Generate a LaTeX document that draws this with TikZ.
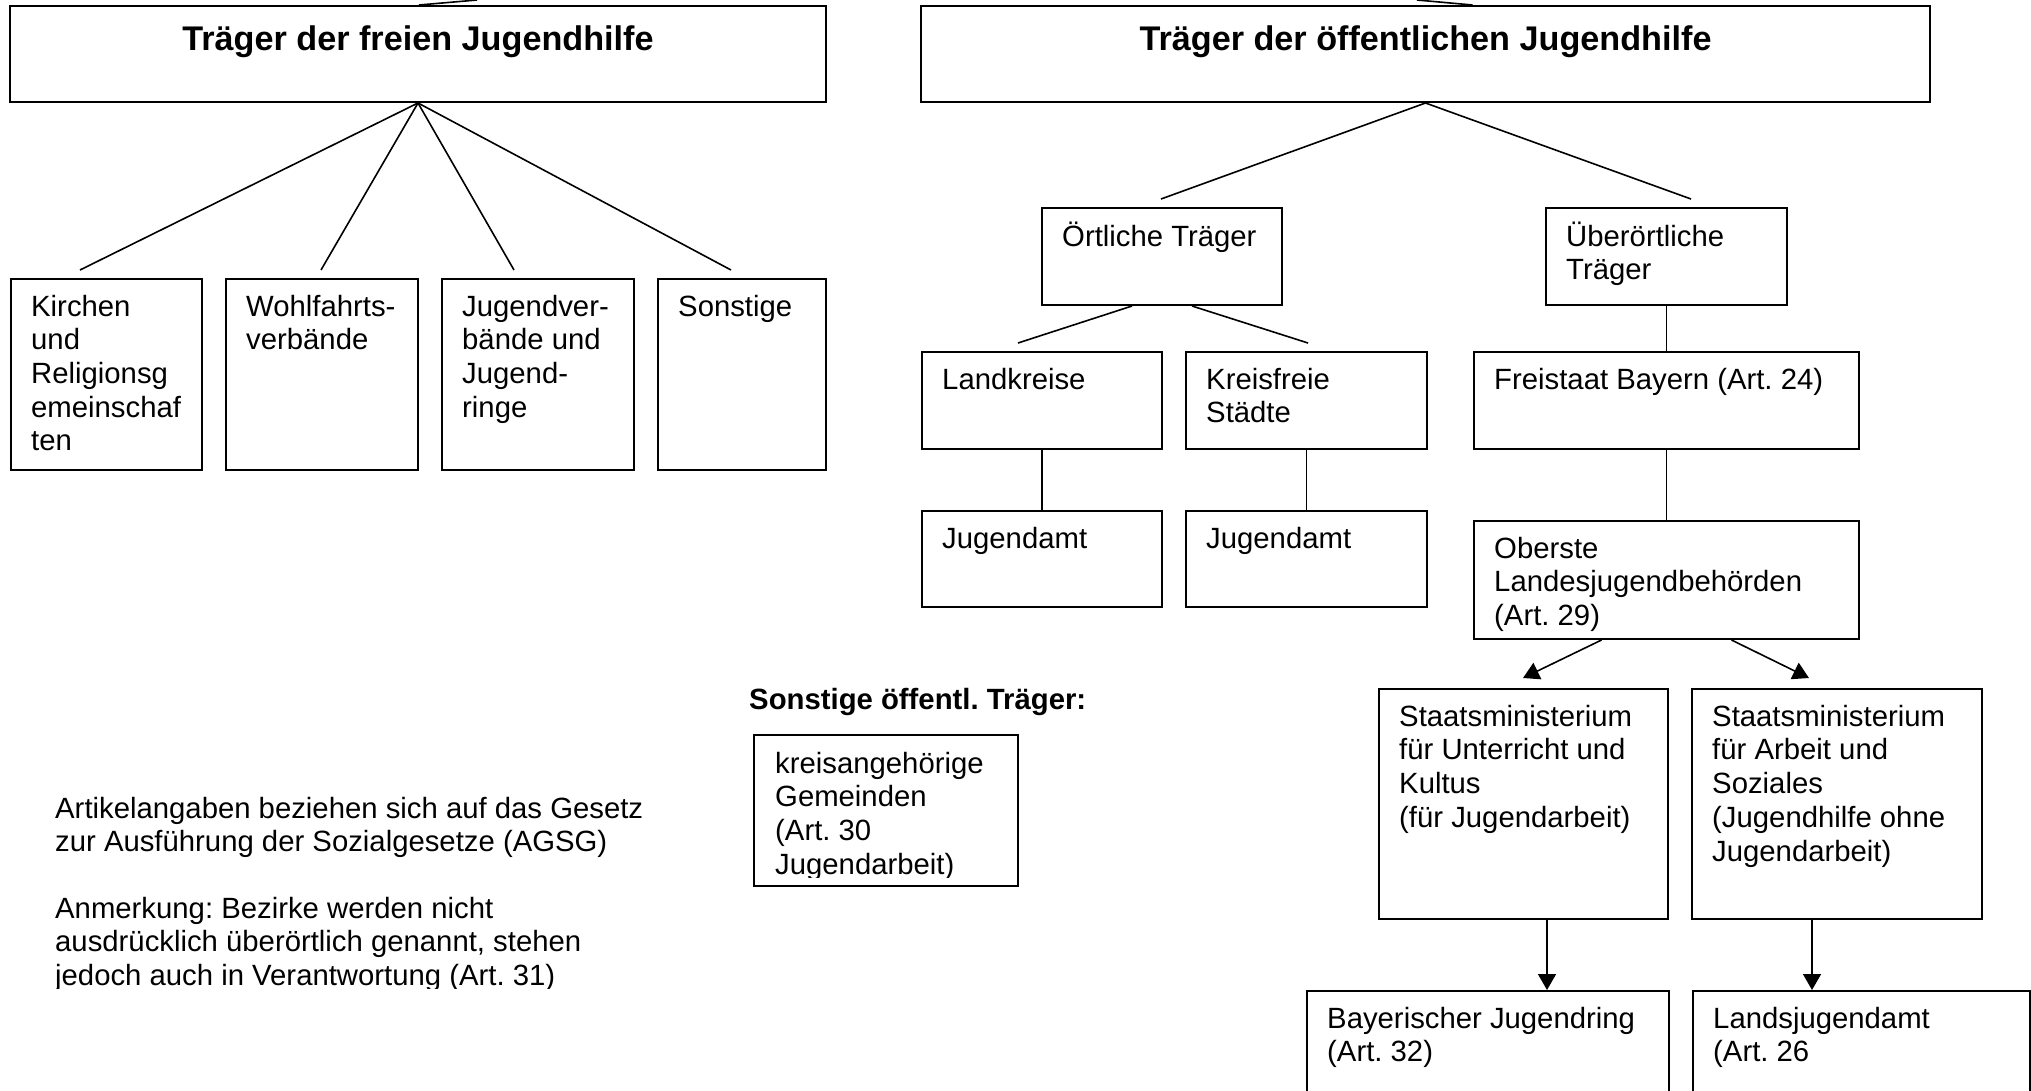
\documentclass[tikz,border=0pt]{standalone}
\usepackage{fontspec}
\setmainfont{Liberation Sans}
\usetikzlibrary{fit,arrows.meta}
\newcommand\mkbox[6]{%
  \node[boxst, fit={(#2,#3) (#4,#5)}] (#1) {};
  \node[txt] (#1-t) at ([shift={(21,14.4)}]#1.north west) {\strut #6};}
\frenchspacing
\begin{document}
\begin{tikzpicture}[x=1pt,y=-1pt,
  boxst/.style={draw, line width=2pt, inner sep=0pt},
  txt/.style={anchor=north west, inner sep=0pt, align=left, font=\fontsize{29.3}{33.7}\selectfont\frenchspacing},
  ttl/.style={anchor=base, inner sep=0pt, font=\fontsize{29.3}{33.7}\selectfont\bfseries\frenchspacing},
  bigttl/.style={anchor=base, inner sep=0pt, font=\fontsize{34.2}{39.3}\selectfont\bfseries\frenchspacing},
  ln/.style={line width=1.6pt},
  arr/.style={line width=1.6pt, -{Triangle[length=16pt,width=18pt]}}]
\useasboundingbox[fill=white] (0,0) rectangle (2031,1090);

% top boxes
\node[boxst, fit={(10,6) (826,102)}] (trF) {};
\node[bigttl] (trF-t) at ([shift={(0,45)}]trF.north) {Träger der freien Jugendhilfe};
\node[boxst, fit={(921,6) (1930,102)}] (trO) {};
\node[bigttl] (trO-t) at ([shift={(0,45)}]trO.north) {Träger der öffentlichen Jugendhilfe};

\coordinate (upL) at (477,0);
\coordinate (upR) at (1417,0);
\draw[ln] ([shift={(1,0)}]trF.north) -- (upL);
\draw[ln] ([shift={(47,0)}]trO.north) -- (upR);

% freie Träger
\mkbox{kir}{11}{279}{202}{470}{Kirchen\\und\\Religionsg\\emeinschaf\\ten}
\mkbox{wohl}{226}{279}{418}{470}{Wohlfahrts-\\verbände}
\mkbox{jv}{442}{279}{634}{470}{Jugendver-\\bände und\\Jugend-\\ringe}
\mkbox{son}{658}{279}{826}{470}{Sonstige}

\coordinate (e1) at (80,270);
\coordinate (e2) at (321,270);
\coordinate (e3) at (514,270);
\coordinate (e4) at (731,270);
\foreach \e in {e1,e2,e3,e4} \draw[ln] (trF.south) -- (\e);

% öffentliche Träger
\mkbox{ort}{1042}{208}{1282}{305}{Örtliche Träger}
\mkbox{ueb}{1546}{208}{1787}{305}{Überörtliche\\Träger}
\coordinate (f1) at (1161,199);
\coordinate (f2) at (1691,199);
\draw[ln] (trO.south) -- (f1);
\draw[ln] (trO.south) -- (f2);

\mkbox{lk}{922}{352}{1162}{449}{Landkreise}
\mkbox{kfs}{1186}{352}{1427}{449}{Kreisfreie\\Städte}
\mkbox{frei}{1474}{352}{1859}{449}{Freistaat Bayern (Art. 24)}
\coordinate (g1) at (1018,343);
\coordinate (g2) at (1308,343);
\draw[ln] ([shift={(-30,0)}]ort.south) -- (g1);
\draw[ln] ([shift={(30,0)}]ort.south) -- (g2);
\draw[ln] (ueb.south) -- (frei.north);

\mkbox{ja1}{922}{511}{1162}{607}{Jugendamt}
\mkbox{ja2}{1186}{511}{1427}{607}{Jugendamt}
\draw[ln] (lk.south) -- (ja1.north);
\draw[ln] (kfs.south) -- (ja2.north);

\mkbox{ob}{1474}{521}{1859}{639}{Oberste\\Landesjugendbehörden\\(Art. 29)}
\draw[ln] (frei.south) -- (ob.north);

\mkbox{smL}{1379}{689}{1668}{919}{Staatsministerium\\für Unterricht und\\Kultus\\(für Jugendarbeit)}
\mkbox{smR}{1692}{689}{1982}{919}{Staatsministerium\\für Arbeit und\\Soziales\\(Jugendhilfe ohne\\Jugendarbeit)}
\coordinate (tipL) at (1523,678);
\coordinate (tipR) at (1809,678);
\draw[arr] ([shift={(-65,0)}]ob.south) -- (tipL);
\draw[arr] ([shift={(65,0)}]ob.south) -- (tipR);

\mkbox{bjr}{1307}{991}{1669}{1120}{Bayerischer Jugendring\\(Art. 32)}
\mkbox{lja}{1693}{991}{2030}{1120}{Landsjugendamt\\(Art. 26}
\coordinate (ax1) at (1547,0);
\coordinate (ax2) at (1812,0);
\draw[arr] (smL.south -| ax1) -- (bjr.north -| ax1);
\draw[arr] (smR.south -| ax2) -- (lja.north -| ax2);

% sonstige öffentliche Träger
\node[ttl, anchor=base west] (sonst) at (749,709) {Sonstige öffentl. Träger:};
\node[boxst, fit={(754,735) (1018,886)}] (kag) {};
\begin{scope}
  \clip (0,0) rectangle (2031,877);
  \node[txt] (kag-t) at (775,749.4) {\strut kreisangehörige\\Gemeinden\\(Art. 30\\Jugendarbeit)};
\end{scope}

% notes
\node[txt] (note1) at (55,794.4) {\strut Artikelangaben beziehen sich auf das Gesetz\\zur Ausführung der Sozialgesetze (AGSG)};
\begin{scope}
  \clip (0,0) rectangle (2031,988);
  \node[txt] (note2) at (55,894.4) {\strut Anmerkung: Bezirke werden nicht\\ausdrücklich überörtlich genannt, stehen\\jedoch auch in Verantwortung (Art. 31)};
\end{scope}
\end{tikzpicture}
\end{document}
